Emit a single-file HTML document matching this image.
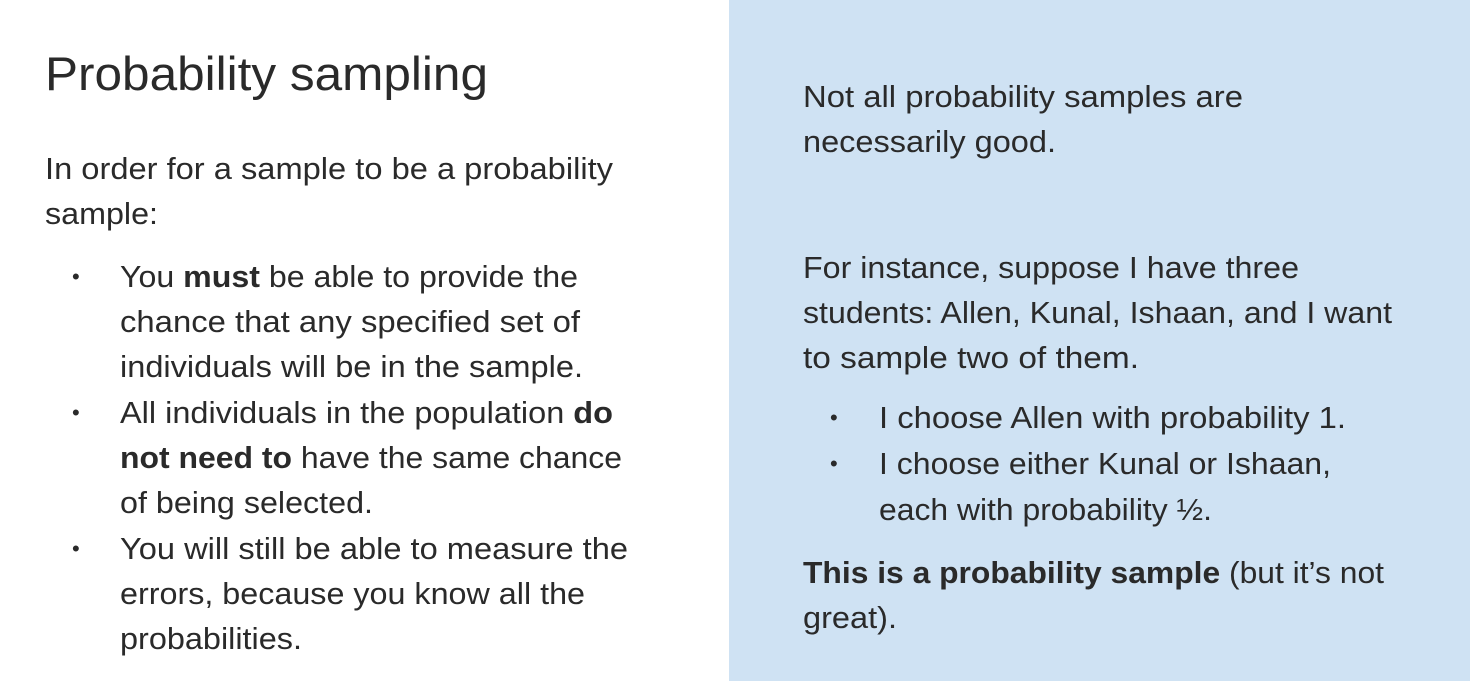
<!DOCTYPE html>
<html><head><meta charset="utf-8"><style>
html,body{margin:0;padding:0;width:1470px;height:681px;overflow:hidden;background:#fff}
svg{display:block}
text{font-family:"Liberation Sans",sans-serif;fill:#2a2a2a;font-size:31px}
.b{font-weight:bold}
.dot{font-size:22px}
</style></head><body>
<svg width="1470" height="681">
<rect x="729" y="0" width="741" height="681" fill="#cfe2f3"/>
<text x="45" y="90" style="font-size:47px" textLength="443" lengthAdjust="spacingAndGlyphs">Probability sampling</text>
<g>
<text x="45" y="179" textLength="568" lengthAdjust="spacingAndGlyphs">In order for a sample to be a probability</text>
<text x="45" y="224" textLength="113" lengthAdjust="spacingAndGlyphs">sample:</text>
<text class="dot" x="72" y="284">•</text>
<text x="120" y="287" textLength="458" lengthAdjust="spacingAndGlyphs">You <tspan class="b">must</tspan> be able to provide the</text>
<text x="120" y="332" textLength="460" lengthAdjust="spacingAndGlyphs">chance that any specified set of</text>
<text x="120" y="377" textLength="463" lengthAdjust="spacingAndGlyphs">individuals will be in the sample.</text>
<text class="dot" x="72" y="420">•</text>
<text x="120" y="423" textLength="493" lengthAdjust="spacingAndGlyphs">All individuals in the population <tspan class="b">do</tspan></text>
<text x="120" y="468" textLength="502" lengthAdjust="spacingAndGlyphs"><tspan class="b">not need to</tspan> have the same chance</text>
<text x="120" y="513" textLength="253" lengthAdjust="spacingAndGlyphs">of being selected.</text>
<text class="dot" x="72" y="556">•</text>
<text x="120" y="559" textLength="508" lengthAdjust="spacingAndGlyphs">You will still be able to measure the</text>
<text x="120" y="604" textLength="465" lengthAdjust="spacingAndGlyphs">errors, because you know all the</text>
<text x="120" y="649" textLength="182" lengthAdjust="spacingAndGlyphs">probabilities.</text>
</g>
<g>
<text x="803" y="107" textLength="440" lengthAdjust="spacingAndGlyphs">Not all probability samples are</text>
<text x="803" y="152" textLength="253" lengthAdjust="spacingAndGlyphs">necessarily good.</text>
<text x="803" y="278" textLength="496" lengthAdjust="spacingAndGlyphs">For instance, suppose I have three</text>
<text x="803" y="323" textLength="589" lengthAdjust="spacingAndGlyphs">students: Allen, Kunal, Ishaan, and I want</text>
<text x="803" y="368" textLength="336" lengthAdjust="spacingAndGlyphs">to sample two of them.</text>
<text class="dot" x="830" y="425">•</text>
<text x="879" y="428" textLength="467" lengthAdjust="spacingAndGlyphs">I choose Allen with probability 1.</text>
<text class="dot" x="830" y="471">•</text>
<text x="879" y="474" textLength="452" lengthAdjust="spacingAndGlyphs">I choose either Kunal or Ishaan,</text>
<text x="879" y="520" textLength="333" lengthAdjust="spacingAndGlyphs">each with probability ½.</text>
<text x="803" y="583" textLength="581" lengthAdjust="spacingAndGlyphs"><tspan class="b">This is a probability sample</tspan> (but it’s not</text>
<text x="803" y="628" textLength="94" lengthAdjust="spacingAndGlyphs">great).</text>
</g>
</svg>
</body></html>
